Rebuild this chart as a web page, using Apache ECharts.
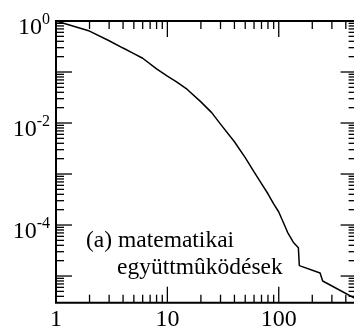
<!DOCTYPE html>
<html>
<head>
<meta charset="utf-8">
<script src="https://cdn.jsdelivr.net/npm/echarts@6/dist/echarts.min.js"></script>
<style>
html, body { margin: 0; padding: 0; background: #fff; }
#chart { width: 354px; height: 331px; }
</style>
</head>
<body>
<div id="chart"></div>
<script>
// cumulative degree distribution
const degrees = [1, 2, 3, 4, 5, 6, 8, 10, 12, 15, 20, 25, 30, 40, 50, 60, 70, 80, 90, 100, 110, 120, 135, 150, 153, 235, 248, 500];
const cumProb = [1, 0.635, 0.41, 0.295, 0.23, 0.186, 0.115, 0.083, 0.065, 0.046, 0.026, 0.016, 0.0095, 0.0043, 0.0021, 0.0011, 6.5e-4, 4.1e-4, 2.6e-4, 1.8e-4, 1.12e-4, 7.2e-5, 4.6e-5, 3.6e-5, 1.6e-5, 1.15e-5, 8e-6, 3.5e-6];

const xTickLabels = [1, 10, 100];
const yTickExponents = [0, -2, -4];
const xMajorTicks = [10, 100];
const yMajorTicks = [1e-1, 1e-2, 1e-3, 1e-4, 1e-5];
const minorSteps = [2, 3, 4, 5, 6, 7, 8, 9];
const xDecades = [1, 10, 100];
const yDecades = [1e-1, 1e-2, 1e-3, 1e-4, 1e-5, 1e-6];
const noteLines = ['(a) matematikai', 'együttmûködések'];

const X_MIN = 1, X_MAX = 500, Y_MIN = 3e-6, Y_MAX = 1;
const FONT = '"Liberation Serif", "Times New Roman", serif';

const chart = echarts.init(document.getElementById('chart'));

// tick rows: [value, other-axis value, length]
const xTicks = [];
xMajorTicks.forEach(v => xTicks.push([v, 1e-3, 16]));
xDecades.forEach(d => minorSteps.forEach(s => {
	const v = d * s;
	if (v < X_MAX) xTicks.push([v, 1e-3, 8]);
}));
const yTicks = [];
yMajorTicks.forEach(v => yTicks.push([10, v, 16]));
yDecades.forEach(d => minorSteps.forEach(s => {
	const v = d * s;
	if (v > Y_MIN && v < Y_MAX) yTicks.push([10, v, 8]);
}));

const tickStyle = { stroke: '#000', lineWidth: 1.3 };

function isPow10(v) {
	const e = Math.log10(v);
	return Math.abs(e - Math.round(e)) < 1e-6;
}

const option = {
	animation: false,
	grid: {
		left: 56,
		top: 21,
		width: 300.6,
		height: 281.7,
		show: true,
		borderColor: '#000',
		borderWidth: 2,
		containLabel: false,
		outerBoundsMode: 'none'
	},
	xAxis: {
		type: 'log',
		logBase: 10,
		min: X_MIN,
		max: X_MAX,
		axisLine: { show: false },
		axisTick: { show: false },
		splitLine: { show: false },
		axisLabel: {
			margin: 5,
			color: '#000',
			fontFamily: FONT,
			fontSize: 24,
			formatter(v) {
				if (!isPow10(v)) return '';
				const r = Math.round(v);
				return xTickLabels.includes(r) ? String(r) : '';
			}
		}
	},
	yAxis: {
		type: 'log',
		logBase: 10,
		min: Y_MIN,
		max: Y_MAX,
		axisLine: { show: false },
		axisTick: { show: false },
		splitLine: { show: false },
		axisLabel: {
			margin: 6,
			color: '#000',
			padding: [10, 0, 0, 0],
			formatter(v) {
				if (!isPow10(v)) return '';
				const e = Math.round(Math.log10(v));
				if (!yTickExponents.includes(e)) return '';
				return '{b|10}{s|' + e + '}';
			},
			rich: {
				b: { fontFamily: FONT, fontSize: 24, color: '#000', padding: [4, 0, 0, 0], verticalAlign: 'top' },
				s: { fontFamily: FONT, fontSize: 16, color: '#000', verticalAlign: 'top' }
			}
		}
	},
	graphic: [
		{ type: 'text', left: 86, top: 229, style: { text: noteLines[0], font: '23.5px ' + FONT, fill: '#000' } },
		{ type: 'text', left: 117, top: 256, style: { text: noteLines[1], font: '23.5px ' + FONT, fill: '#000' } }
	],
	series: [
		{
			type: 'line',
			data: degrees.map((d, i) => [d, cumProb[i]]),
			showSymbol: false,
			symbol: 'none',
			lineStyle: { color: '#000', width: 1.5 },
			z: 3
		},
		{
			type: 'custom',
			data: xTicks,
			clip: false,
			silent: true,
			renderItem(params, api) {
				const r = params.coordSys;
				const px = api.coord([api.value(0), api.value(1)])[0];
				const len = api.value(2);
				const bottom = r.y + r.height;
				return {
					type: 'group',
					children: [
						{ type: 'line', shape: { x1: px, y1: bottom, x2: px, y2: bottom - len }, style: tickStyle },
						{ type: 'line', shape: { x1: px, y1: r.y, x2: px, y2: r.y + len }, style: tickStyle }
					]
				};
			}
		},
		{
			type: 'custom',
			data: yTicks,
			clip: false,
			silent: true,
			renderItem(params, api) {
				const r = params.coordSys;
				const py = api.coord([api.value(0), api.value(1)])[1];
				const len = api.value(2);
				const right = r.x + r.width;
				return {
					type: 'group',
					children: [
						{ type: 'line', shape: { x1: r.x, y1: py, x2: r.x + len, y2: py }, style: tickStyle },
						{ type: 'line', shape: { x1: right, y1: py, x2: right - len, y2: py }, style: tickStyle }
					]
				};
			}
		}
	]
};

option && chart.setOption(option);
</script>
</body>
</html>
